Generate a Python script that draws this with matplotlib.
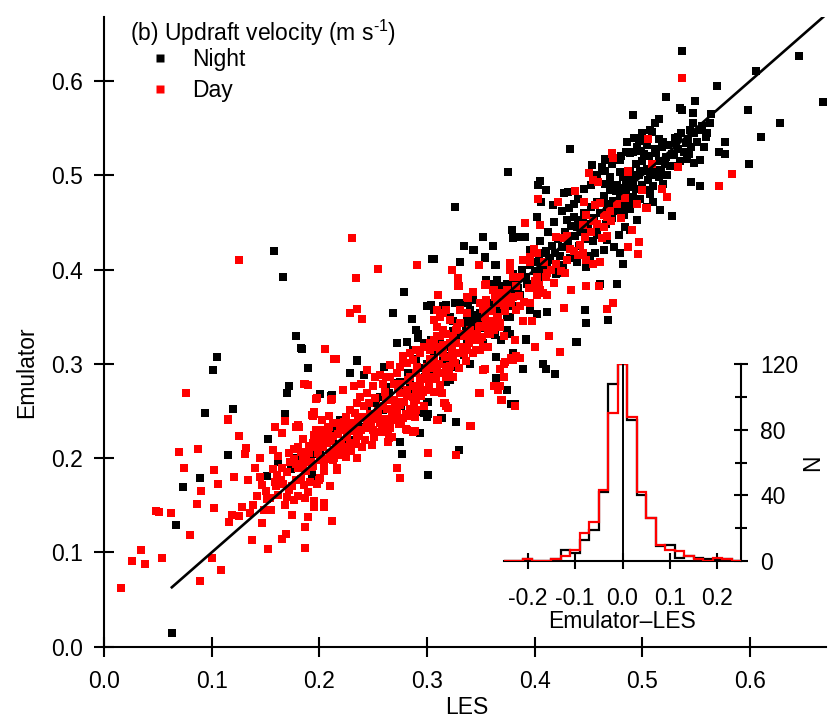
import numpy as np
import matplotlib
matplotlib.use("Agg")
import matplotlib.pyplot as plt
from matplotlib.lines import Line2D

plt.rcParams['font.family'] = ['Liberation Sans', 'DejaVu Sans']
plt.rcParams['mathtext.fontset'] = 'custom'
plt.rcParams['mathtext.rm'] = 'Liberation Sans'
plt.rcParams['mathtext.it'] = 'Liberation Sans'
plt.rcParams['axes.unicode_minus'] = False

# ---------------- data (LES, Emulator) ----------------
night = np.array([
    (.152,.220),(.115,.203),(.089,.179),(.073,.169),(.067,.129),(.151,.181),(.162,.196),(.174,.188),(.179,.200),
    (.193,.181),(.195,.204),(.210,.228),(.063,.014),
    (.158,.420),(.166,.392),(.178,.330),(.183,.317),(.105,.307),(.101,.293),(.189,.296),(.172,.276),(.170,.269),
    (.201,.268),(.211,.266),(.094,.248),(.120,.252),(.168,.247),
    (.306,.411),(.331,.408),(.344,.421),(.354,.413),(.364,.405),(.279,.376),(.268,.354),(.286,.348),(.184,.316),
    (.272,.322),(.235,.304),(.189,.296),(.228,.290),(.241,.288),(.201,.268),(.212,.267),(.301,.260),(.297,.248),
    (.301,.247),(.314,.243),(.327,.238),(.293,.227),(.275,.217),(.277,.204),(.330,.209),(.301,.182),(.194,.204),
    (.193,.182),(.382,.257),(.364,.307),(.364,.285),(.318,.281),(.334,.309),(.324,.345),(.326,.364),(.318,.362),
    (.300,.361),(.304,.362),(.290,.336),(.292,.327),(.297,.322),(.304,.325),(.337,.345),(.343,.343),(.349,.338),
    (.355,.389),(.362,.385),(.368,.382),(.371,.377),(.375,.368),(.380,.361),(.383,.389),(.368,.357),(.374,.350),
    (.377,.332),(.369,.325),(.363,.331),(.343,.368),(.349,.364),(.338,.364),(.312,.315),(.315,.304),(.321,.308),
    (.324,.297),(.284,.272),(.275,.281),(.276,.255),(.262,.269),(.256,.265),(.244,.255),(.253,.258),(.213,.230),
    (.219,.240),(.204,.216),(.201,.209),(.380,.311),(.374,.272),(.300,.244),
    (.491,.564),(.433,.528),(.375,.503),(.326,.466),(.305,.411),(.334,.425),(.343,.421),(.352,.435),(.361,.425),
    (.354,.412),(.331,.408),(.363,.405),(.379,.442),(.380,.433),(.386,.434),(.391,.435),(.396,.421),(.402,.456),
    (.403,.490),(.405,.494),(.410,.484),(.406,.472),(.417,.468),(.427,.481),(.431,.482),(.436,.470),(.430,.452),
    (.436,.456),(.439,.445),(.445,.452),(.448,.443),(.453,.511),(.465,.516),(.462,.509),(.470,.498),(.470,.493),
    (.475,.483),(.479,.516),(.485,.525),(.488,.524),(.495,.530),(.498,.536),(.501,.523),(.504,.507),(.495,.500),
    (.488,.495),(.484,.486),(.479,.477),(.476,.470),(.471,.463),(.482,.463),(.488,.467),(.495,.452),(.488,.442),
    (.484,.445),(.478,.437),(.479,.417),(.482,.406),(.474,.424),(.467,.431),(.458,.437),(.464,.421),(.456,.417),
    (.451,.414),(.448,.403),(.461,.385),(.476,.385),(.439,.408),(.447,.357),(.468,.346),(.448,.343),(.439,.323),
    (.365,.389),(.374,.385),(.380,.376),(.386,.373),(.393,.385),(.399,.382),(.405,.392),(.411,.403),(.420,.403),
    (.427,.396),(.423,.414),(.414,.410),(.408,.417),(.402,.408),(.365,.371),(.358,.361),(.349,.354),(.340,.357),
    (.334,.364),(.328,.364),(.321,.350),(.315,.361),(.306,.357),(.343,.339),(.337,.322),(.352,.322),(.377,.350),
    (.396,.357),(.402,.353),(.411,.355),(.392,.325),(.374,.336),
    (.537,.632),(.645,.626),(.605,.611),(.569,.595),(.522,.583),(.549,.579),(.535,.571),(.537,.569),(.547,.566),
    (.668,.578),(.598,.569),(.564,.565),(.512,.555),(.547,.555),(.544,.548),(.555,.552),(.628,.555),(.509,.546),
    (.533,.541),(.540,.534),(.531,.534),(.497,.536),(.504,.532),(.515,.538),(.519,.535),(.559,.541),(.610,.541),
    (.577,.535),(.485,.525),(.491,.525),(.499,.526),(.513,.524),(.522,.519),(.529,.521),(.571,.525),(.577,.522),
    (.543,.523),(.541,.517),(.548,.513),(.553,.516),(.465,.517),(.474,.516),(.478,.516),(.599,.512),(.526,.510),
    (.514,.506),(.507,.502),(.515,.498),(.498,.505),(.494,.500),(.491,.498),(.479,.503),(.470,.494),(.465,.491),
    (.519,.491),(.510,.489),(.502,.484),(.545,.493),(.553,.489),(.516,.463),(.527,.457),(.488,.488),(.485,.482),
    (.479,.479),(.473,.473),(.467,.470),(.474,.465),(.482,.470),(.491,.477),(.488,.464),(.498,.475),(.507,.480),
    (.510,.472),(.504,.466),
    (.438,.323),(.392,.326),(.408,.300),(.410,.295),(.419,.289),(.389,.294),(.378,.257),(.300,.260),(.296,.249),
    (.313,.243),(.235,.303),(.260,.297),(.272,.322),(.281,.323),(.292,.332),(.287,.315),(.303,.315),(.304,.301),
    (.318,.306),(.327,.300),(.334,.309),(.340,.300),(.321,.283),(.303,.290),(.298,.286),(.284,.279),(.275,.272),
    (.265,.269),(.259,.251),(.250,.244),(.238,.233),(.233,.219),(.225,.216),(.213,.219),
    (.380,.395),(.384,.380),(.388,.400),(.392,.392),(.396,.405),(.400,.398),(.404,.414),(.407,.400),(.410,.420),
    (.413,.412),(.416,.425),(.419,.418),(.422,.432),(.425,.424),(.428,.440),(.431,.430),(.434,.446),(.437,.436),
    (.440,.452),(.443,.440),(.446,.460),(.449,.448),(.452,.466),(.455,.455),(.458,.472),(.461,.460),(.464,.478),
    (.467,.466),(.470,.484),(.473,.472),(.476,.490),(.479,.482),(.482,.498),(.485,.490),(.488,.505),(.491,.494),
    (.494,.512),(.497,.500),(.500,.515),(.503,.505),(.506,.520),(.509,.510),(.512,.528),(.515,.515),(.518,.530),
    (.521,.512),(.524,.532),(.527,.522),(.530,.540),(.533,.528),(.536,.545),(.539,.525),(.542,.538),(.545,.530),
    (.548,.545),(.551,.535),(.554,.548),(.557,.530),(.560,.545),(.563,.555),
    (.420,.395),(.426,.405),(.433,.412),(.441,.425),(.447,.432),(.454,.430),(.460,.445),(.466,.448),(.472,.455),
    (.478,.462),(.483,.458),(.489,.475),(.494,.485),(.500,.490),(.505,.495),(.511,.500),(.517,.505),(.523,.500),
    (.529,.510),(.535,.515),
    (.405,.430),(.412,.440),(.418,.450),(.425,.462),(.432,.465),(.440,.475),(.446,.485),(.452,.490),(.458,.500),
    (.465,.505),(.472,.512),(.480,.520),(.486,.535),(.492,.540),(.500,.545),(.507,.548),(.515,.560),
    (.300,.300),(.306,.312),(.312,.322),(.318,.318),(.324,.335),(.330,.330),(.336,.340),(.342,.352),(.348,.345),
    (.354,.358),(.360,.364),(.366,.362),(.372,.378),(.378,.384),(.384,.392),(.290,.305),(.296,.296),(.282,.290),
    (.270,.280),(.262,.275),
])

day = np.array([
    (.115,.240),(.168,.239),(.159,.233),(.178,.233),(.181,.233),(.165,.227),(.125,.223),(.070,.206),(.087,.210),
    (.132,.211),(.131,.204),(.157,.209),(.162,.202),(.176,.210),(.183,.206),(.173,.196),(.178,.194),(.176,.199),
    (.190,.213),(.198,.216),(.203,.219),(.207,.226),(.209,.233),(.192,.196),(.193,.191),(.074,.189),(.102,.187),
    (.106,.173),(.090,.165),(.121,.180),(.134,.177),(.145,.180),(.147,.171),(.161,.182),(.164,.177),(.166,.173),
    (.172,.166),(.170,.159),(.178,.177),(.176,.156),(.186,.171),(.189,.164),(.187,.158),(.198,.173),(.201,.179),
    (.204,.186),(.200,.177),(.210,.170),(.154,.158),(.151,.157),(.162,.161),(.149,.145),(.136,.142),(.128,.148),
    (.119,.140),(.125,.139),(.086,.151),(.048,.144),(.051,.143),(.062,.142),(.102,.147),(.116,.132),(.147,.131),
    (.175,.140),(.189,.138),(.187,.127),(.195,.154),(.195,.148),(.204,.152),(.204,.148),(.212,.133),(.080,.118),
    (.137,.113),(.169,.120),(.165,.114),(.152,.104),(.187,.105),(.034,.103),(.026,.091),(.038,.088),(.054,.094),
    (.100,.094),(.109,.081),(.089,.070),(.016,.062),
    (.125,.410),(.205,.316),(.214,.305),(.186,.279),(.189,.278),(.197,.263),(.211,.262),(.195,.249),(.193,.246),
    (.076,.269),(.115,.242),(.180,.235),(.230,.433),
    (.254,.401),(.234,.391),(.291,.405),(.348,.405),(.323,.399),(.228,.354),(.235,.358),(.240,.348),(.329,.387),
    (.330,.382),(.310,.373),(.338,.370),(.354,.384),(.362,.378),(.377,.407),(.380,.392),(.215,.305),(.187,.279),
    (.198,.264),(.195,.247),(.194,.245),(.349,.269),(.341,.234),(.327,.203),(.301,.205),(.272,.190),(.275,.179),
    (.314,.269),(.316,.258),(.318,.255),(.309,.240),(.352,.293),(.354,.294),(.362,.276),(.368,.277),(.369,.262),
    (.371,.286),(.372,.302),(.380,.304),(.383,.308),(.290,.251),(.289,.244),(.281,.230),(.287,.228),(.275,.237),
    (.266,.232),(.264,.217),(.267,.222),(.252,.286),(.244,.293),(.232,.276),(.222,.272),(.212,.263),(.239,.279),
    (.250,.276),(.256,.288),(.266,.299),
    (.194,.216),(.201,.223),(.207,.226),(.213,.223),(.219,.230),(.225,.230),(.216,.212),(.210,.205),(.201,.198),
    (.188,.198),(.222,.209),(.228,.216),(.235,.223),(.232,.237),(.238,.244),(.244,.237),(.247,.247),(.241,.255),
    (.235,.258),(.253,.244),(.250,.230),(.256,.237),(.259,.255),(.262,.262),(.244,.269),(.238,.265),(.228,.251),
    (.225,.244),(.219,.237),(.207,.216),(.213,.237),(.204,.230),(.197,.212),(.190,.205),(.185,.195),(.204,.191),
    (.216,.187),
    (.266,.286),(.272,.290),(.275,.297),(.281,.301),(.278,.308),(.284,.311),(.287,.304),(.290,.315),(.293,.311),
    (.297,.318),(.300,.297),(.306,.304),(.303,.315),(.309,.318),(.306,.325),(.312,.329),(.315,.336),(.309,.339),
    (.318,.332),(.321,.322),(.324,.329),(.327,.336),(.331,.343),(.327,.322),(.334,.329),(.337,.332),(.340,.336),
    (.343,.325),(.346,.332),(.349,.325),(.352,.339),(.355,.343),(.358,.332),(.362,.339),(.365,.350),(.368,.339),
    (.355,.364),(.358,.357),(.365,.368),(.371,.364),(.374,.371),(.368,.375),(.380,.371),(.312,.350),(.315,.354),
    (.309,.357),(.318,.357),(.321,.346),(.306,.346),(.331,.357),(.337,.354),(.284,.286),(.275,.279),(.281,.272),
    (.269,.279),(.262,.286),(.259,.279),(.290,.290),(.293,.279),(.300,.272),(.306,.286),(.290,.272),(.287,.265),
    (.275,.269),(.278,.304),(.318,.297),(.312,.290),(.324,.286),(.315,.311),(.352,.318),(.337,.315),(.343,.311),
    (.472,.523),(.450,.502),(.454,.495),(.459,.493),(.487,.504),(.403,.475),(.422,.472),(.437,.483),(.446,.472),
    (.456,.468),(.461,.471),(.504,.465),(.391,.449),(.405,.447),(.448,.458),(.445,.447),(.454,.451),(.467,.456),
    (.471,.451),(.464,.445),(.490,.442),(.497,.429),(.487,.424),(.496,.416),(.420,.435),(.427,.433),(.430,.436),
    (.399,.422),(.402,.417),(.396,.413),(.433,.422),(.440,.415),(.445,.417),(.448,.410),(.461,.408),(.454,.406),
    (.462,.433),(.467,.436),(.428,.396),(.420,.406),(.409,.408),(.377,.406),(.377,.399),(.389,.410),(.396,.408),
    (.329,.391),(.329,.383),(.355,.385),(.361,.378),(.363,.371),(.374,.378),(.383,.383),(.386,.392),(.402,.392),
    (.411,.396),(.399,.380),(.405,.378),(.408,.375),(.402,.373),(.396,.364),(.411,.373),(.427,.359),(.434,.378),
    (.448,.383),(.460,.383),(.473,.365),(.467,.358),(.310,.373),(.337,.371),(.343,.376),(.349,.364),(.355,.368),
    (.365,.364),(.371,.362),(.383,.357),(.386,.361),(.389,.345),(.397,.345),(.368,.343),(.362,.336),(.371,.329),
    (.382,.325),(.400,.318),(.413,.329),(.423,.313),(.321,.346),(.328,.339),(.334,.332),(.315,.336),(.309,.329),
    (.303,.322),(.312,.315),(.324,.322),(.343,.325),(.349,.315),(.357,.318),(.334,.311),
    (.537,.603),(.505,.538),(.472,.524),(.473,.518),(.509,.512),(.533,.509),(.487,.503),(.583,.501),(.571,.489),
    (.500,.484),(.518,.485),(.523,.477),(.495,.470),(.503,.465),
    (.382,.325),(.378,.306),(.386,.306),(.371,.300),(.368,.294),(.348,.269),(.364,.276),(.366,.272),(.370,.262),
    (.382,.255),(.340,.234),(.317,.258),(.319,.253),(.310,.240),(.289,.229),(.280,.231),(.274,.236),(.265,.221),
    (.235,.200),(.216,.189),(.225,.201),(.214,.200),(.280,.247),(.276,.260),(.270,.253),(.262,.242),
    (.195,.225),(.199,.205),(.203,.212),(.206,.199),(.208,.232),(.211,.218),(.214,.206),(.217,.226),(.220,.215),
    (.223,.238),(.226,.222),(.229,.208),(.231,.229),(.234,.215),(.236,.242),(.239,.230),(.242,.219),(.245,.244),
    (.248,.236),(.251,.222),(.254,.250),(.257,.228),(.260,.241),(.263,.252),(.266,.238),(.269,.262),(.272,.248),
    (.275,.256),(.278,.243),(.281,.266),(.284,.252),(.287,.276),(.290,.262),(.293,.285),(.296,.270),(.299,.291),
    (.302,.279),(.305,.296),(.308,.284),(.311,.300),(.314,.290),(.317,.307),(.320,.294),(.323,.314),(.326,.301),
    (.197,.230),(.202,.240),(.209,.245),(.213,.198),(.218,.203),(.224,.212),(.227,.235),(.233,.248),(.237,.226),
    (.240,.212),(.243,.232),(.246,.258),(.249,.214),(.252,.264),(.255,.242),(.258,.234),(.261,.270),(.264,.230),
    (.267,.246),(.270,.240),(.273,.275),(.276,.236),(.279,.260),(.282,.283),(.285,.245),(.288,.258),(.291,.297),
    (.294,.266),(.297,.255),(.300,.284),(.303,.305),(.306,.270),(.309,.292),(.312,.278),(.315,.320),(.318,.286),
    (.321,.298),(.324,.306),(.327,.312),(.330,.296),(.333,.318),(.336,.303),(.339,.322),(.342,.330),(.345,.315),
    (.348,.340),(.351,.328),(.354,.350),(.357,.336),(.360,.345),
    (.170,.185),(.175,.170),(.180,.190),(.183,.178),(.185,.200),(.188,.186),(.191,.175),(.194,.192),(.180,.160),
    (.168,.150),(.160,.170),(.157,.188),(.150,.165),(.142,.160),(.140,.190),(.138,.150),(.145,.200),(.155,.145),
    (.180,.212),(.185,.220),(.172,.205),(.165,.190),(.159,.175),
    (.352,.358),(.360,.356),(.366,.348),(.372,.356),(.378,.364),(.385,.372),(.390,.366),(.395,.380),(.400,.388),
    (.404,.384),(.410,.392),(.415,.400),(.418,.386),(.424,.398),(.430,.410),(.436,.420),(.442,.426),(.447,.434),
    (.452,.440),(.458,.448),(.464,.458),(.470,.462),(.476,.470),(.480,.455),(.484,.476),
])
night_les, night_emu = night[:, 0], night[:, 1]
day_les, day_emu = day[:, 0], day[:, 1]

# one-to-one line range
line_range = [0.063, 0.668]

# histogram of Emulator-LES
hist_edges = np.round(np.arange(-0.25, 0.2501, 0.02), 3)
night_counts = [0, 0, 1, 0, 0, 1, 7, 5, 13, 19, 42, 108, 120, 86, 40, 26, 9, 10, 2, 3, 2, 1, 1, 1, 0]
day_counts   = [0, 0, 1, 0, 0, 1, 3, 7, 17, 24, 43, 90, 120, 88, 42, 26, 10, 7, 6, 3, 1, 0, 2, 1, 0]

FS = 16.5
W, H = 830, 718
fig = plt.figure(figsize=(W / 100, H / 100), dpi=100)

# ---------------- main axes ----------------
ax = fig.add_axes([104 / W, 1 - 646.7 / H, (826 - 104) / W, (646.7 - 17) / H])
ax.scatter(night_les, night_emu, s=31, marker='s', color='black', linewidths=0, zorder=2)
ax.scatter(day_les, day_emu, s=31, marker='s', color='#ff0000', linewidths=0, zorder=3)
ax.plot(line_range, line_range, color='black', lw=1.9, zorder=4)

ax.set_xlim(0, 0.6704)
ax.set_ylim(0, 0.6678)
ax.set_xticks([0.0, 0.1, 0.2, 0.3, 0.4, 0.5, 0.6])
ax.set_yticks([0.0, 0.1, 0.2, 0.3, 0.4, 0.5, 0.6])
ax.xaxis.set_major_formatter(matplotlib.ticker.FormatStrFormatter('%.1f'))
ax.yaxis.set_major_formatter(matplotlib.ticker.FormatStrFormatter('%.1f'))
for s in ['top', 'right']:
    ax.spines[s].set_visible(False)
for s in ['left', 'bottom']:
    ax.spines[s].set_linewidth(1.5)
ax.tick_params(direction='inout', length=14, width=1.5, labelsize=FS)
ax.tick_params(axis='x', pad=10)
ax.tick_params(axis='y', pad=8)
ax.set_xlabel('LES', fontsize=FS, va='center')
ax.xaxis.set_label_coords(0.503, -0.0965)
ax.set_ylabel('Emulator', fontsize=FS, va='center')
ax.yaxis.set_label_coords(-0.107, 0.436)

# legend: title text plus Night / Day entries
fig.text(130 / W, 1 - 33 / H, '(b) Updraft velocity (m s$^{\\text{-1}}$)',
         fontsize=FS, ha='left', va='center')
handles = [Line2D([], [], ls='none', marker='s', ms=5.2, mec='none', color='black'),
           Line2D([], [], ls='none', marker='s', ms=5.2, mec='none', color='#ff0000')]
leg = fig.legend(handles, ['Night', 'Day'], loc='upper left',
                 bbox_to_anchor=(130 / W, 1 - 48 / H), frameon=False,
                 fontsize=FS, handlelength=2.6, handletextpad=0.1,
                 labelspacing=0.33, borderpad=0, borderaxespad=0)

# ---------------- inset histogram ----------------
axin = fig.add_axes([504 / W, 1 - 561 / H, 237 / W, 197 / H])
axin.stairs(night_counts, hist_edges, color='black', lw=1.6, zorder=2)
axin.stairs(day_counts, hist_edges, color='#ff0000', lw=1.6, zorder=3)
axin.axvline(0, color='black', lw=1.4, zorder=4)
axin.set_xlim(-0.25, 0.25)
axin.set_ylim(0, 120)
axin.patch.set_alpha(0)
for s in ['top', 'left']:
    axin.spines[s].set_visible(False)
for s in ['right', 'bottom']:
    axin.spines[s].set_linewidth(1.5)
axin.yaxis.tick_right()
axin.yaxis.set_label_position('right')
axin.set_xticks([-0.2, -0.1, 0.0, 0.1, 0.2])
axin.xaxis.set_major_formatter(matplotlib.ticker.FormatStrFormatter('%.1f'))
axin.set_yticks([0, 40, 80, 120])
axin.set_yticks([20, 60, 100], minor=True)
axin.tick_params(axis='x', direction='inout', length=12, width=1.5, labelsize=FS, pad=13)
axin.tick_params(axis='y', which='major', direction='inout', length=10, width=1.5, labelsize=FS, pad=9)
axin.tick_params(axis='y', which='minor', direction='inout', length=8, width=1.5)
axin.set_xlabel('Emulator\u2013LES', fontsize=FS, labelpad=0)
axin.set_ylabel('N', fontsize=FS, rotation=90, labelpad=2)

fig.savefig('out.png', dpi=100)
